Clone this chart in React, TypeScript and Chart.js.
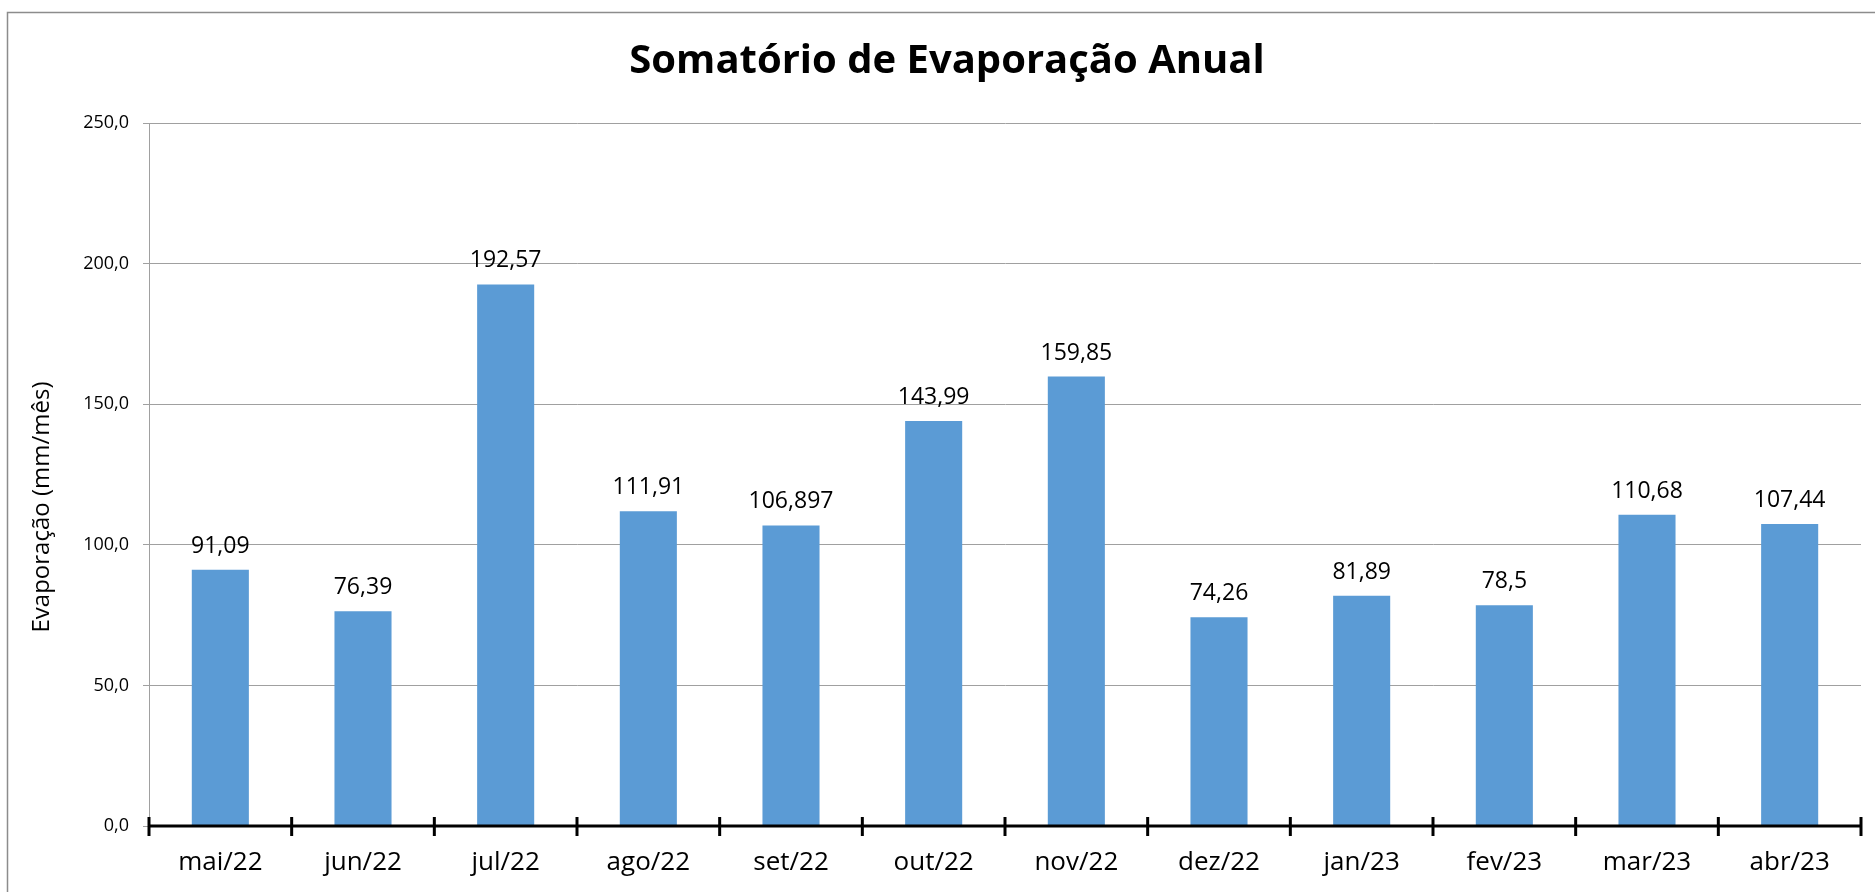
import React, { useEffect, useRef } from "react";
import { Chart, registerables } from "chart.js";

Chart.register(...registerables);

const TITLE = "Somatório de Evaporação Anual";
const Y_TITLE = "Evaporação (mm/mês)";
const categories = ["mai/22", "jun/22", "jul/22", "ago/22", "set/22", "out/22", "nov/22", "dez/22", "jan/23", "fev/23", "mar/23", "abr/23"];
const evaporation = [91.09, 76.39, 192.57, 111.91, 106.897, 143.99, 159.85, 74.26, 81.89, 78.5, 110.68, 107.44];
const Y_MIN = 0;
const Y_MAX = 250;
const Y_STEP = 50;

const FONT = "'Open Sans', 'Noto Sans', sans-serif";

const decorPlugin = {
  id: "decor",
  beforeDraw(chart: any) {
    const ctx = chart.ctx;
    ctx.save();
    ctx.fillStyle = "#ffffff";
    ctx.fillRect(0, 0, chart.width, chart.height);
    ctx.strokeStyle = "#8c8c8c";
    ctx.lineWidth = 1.5;
    ctx.beginPath();
    ctx.moveTo(7.5, chart.height + 2);
    ctx.lineTo(7.5, 12.5);
    ctx.lineTo(chart.width + 2, 12.5);
    ctx.stroke();
    ctx.restore();
  },
  afterDraw(chart: any) {
    const ctx = chart.ctx;
    const area = chart.chartArea;
    const xs = chart.scales.x;
    ctx.save();
    // title
    ctx.fillStyle = "#000000";
    ctx.font = `bold 40px ${FONT}`;
    ctx.textAlign = "center";
    ctx.textBaseline = "middle";
    ctx.fillText(TITLE, 947, 62);
    // y title
    ctx.save();
    ctx.translate(42, 507);
    ctx.rotate(-Math.PI / 2);
    ctx.font = `24px ${FONT}`;
    ctx.fillText(Y_TITLE, 0, 0);
    ctx.restore();
    // x axis line + ticks
    ctx.strokeStyle = "#000000";
    ctx.lineWidth = 3;
    ctx.beginPath();
    ctx.moveTo(area.left, area.bottom);
    ctx.lineTo(area.right, area.bottom);
    ctx.stroke();
    const n = categories.length;
    for (let i = 0; i <= n; i++) {
      const x = xs.left + (i * xs.width) / n;
      ctx.beginPath();
      ctx.moveTo(x, area.bottom - 9);
      ctx.lineTo(x, area.bottom + 10);
      ctx.stroke();
    }
    // data labels
    const meta = chart.getDatasetMeta(0);
    ctx.font = `23px ${FONT}`;
    ctx.textAlign = "center";
    ctx.textBaseline = "alphabetic";
    ctx.fillStyle = "#000000";
    meta.data.forEach((bar: any, i: number) => {
      const label = String(evaporation[i]).replace(".", ",");
      ctx.fillText(label, bar.x, bar.y - 17);
    });
    ctx.restore();
  },
};

export default function App() {
  const ref = useRef<HTMLCanvasElement | null>(null);
  useEffect(() => {
    if (!ref.current) return;
    const chart = new Chart(ref.current, {
      type: "bar",
      data: {
        labels: categories,
        datasets: [
          {
            data: evaporation,
            backgroundColor: "#5b9bd5",
            borderWidth: 0,
            categoryPercentage: 1,
            barPercentage: 0.4,
          },
        ],
      },
      options: {
        responsive: false,
        animation: false,
        layout: { padding: { top: 123, right: 14, bottom: 0, left: 0 } },
        plugins: {
          legend: { display: false },
          title: { display: false },
          tooltip: { enabled: false },
        },
        scales: {
          x: {
            grid: { display: false, drawTicks: false },
            border: { display: false },
            ticks: {
              color: "#000000",
              font: { family: FONT, size: 26 },
              padding: 21,
              maxRotation: 0,
            },
            afterFit(scale: any) {
              scale.height = 66;
            },
          },
          y: {
            min: Y_MIN,
            max: Y_MAX,
            grid: { color: "#a0a0a0", lineWidth: 1, tickLength: 6 },
            border: { display: true, color: "#a0a0a0", width: 1 },
            ticks: {
              stepSize: Y_STEP,
              color: "#000000",
              font: { family: FONT, size: 18 },
              padding: 14,
              callback: (v: any) => Number(v).toFixed(1).replace(".", ","),
            },
            afterFit(scale: any) {
              scale.width = 149;
            },
          },
        },
      },
      plugins: [decorPlugin],
    });
    return () => chart.destroy();
  }, []);
  return (
    <div style={{ position: "absolute", left: 0, top: 0, width: 1875, height: 892 }}>
      <canvas ref={ref} width={1875} height={892} />
    </div>
  );
}
